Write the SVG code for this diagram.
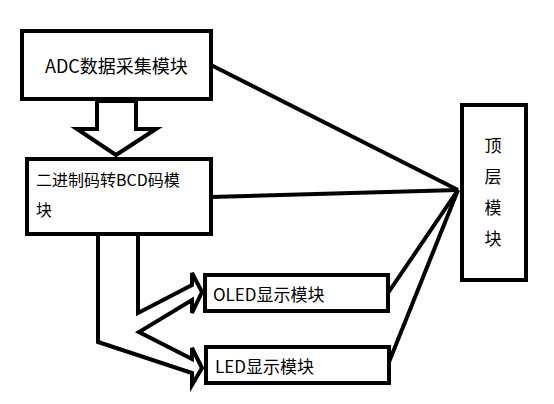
<svg xmlns="http://www.w3.org/2000/svg" width="554" height="404" viewBox="0 0 554 404">
<style>
.box{fill:#fff;stroke:#000;stroke-width:4}
.ln{fill:none;stroke:#000;stroke-width:4;stroke-linejoin:miter}
text{font-family:"Noto Sans CJK SC","Microsoft YaHei",sans-serif;fill:#000}
</style>
<rect width="554" height="404" fill="#fff"/>
<g id="connectors">
<polygon class="ln" points="97,101 97,129 77,129 116,155 156,129 136,129 136,101" fill="#fff"/>
<polyline class="ln" points="138,236 138,313 192,285 192,273 202,292 192,313 192,300 139,332 192,359 192,348 202,368 192,385 192,373 98,342 98,236"/>
<line class="ln" x1="211" y1="65" x2="458" y2="190"/>
<line class="ln" x1="211" y1="197" x2="458" y2="190"/>
<line class="ln" x1="388" y1="293" x2="458" y2="190"/>
<line class="ln" x1="389" y1="362" x2="458" y2="190"/>
</g>
<g id="adc">
<rect class="box" x="22" y="31" width="189" height="68"/>
<text x="45" y="73" font-size="18">ADC数据采集模块</text>
</g>
<g id="bcd">
<rect class="box" x="27" y="159" width="184" height="75"/>
<text x="36" y="186" font-size="16">二进制码转BCD码模</text>
<text x="36" y="216" font-size="16">块</text>
</g>
<g id="oled">
<rect class="box" x="205" y="275" width="183" height="36"/>
<text x="213" y="301" font-size="17">OLED显示模块</text>
</g>
<g id="led">
<rect class="box" x="206" y="347" width="183" height="36"/>
<text x="215" y="373" font-size="17">LED显示模块</text>
</g>
<g id="top">
<rect class="box" x="462" y="105" width="64" height="175"/>
<text x="493" y="152" font-size="17" text-anchor="middle">顶</text>
<text x="493" y="183" font-size="17" text-anchor="middle">层</text>
<text x="493" y="214" font-size="17" text-anchor="middle">模</text>
<text x="493" y="245" font-size="17" text-anchor="middle">块</text>
</g>
</svg>
